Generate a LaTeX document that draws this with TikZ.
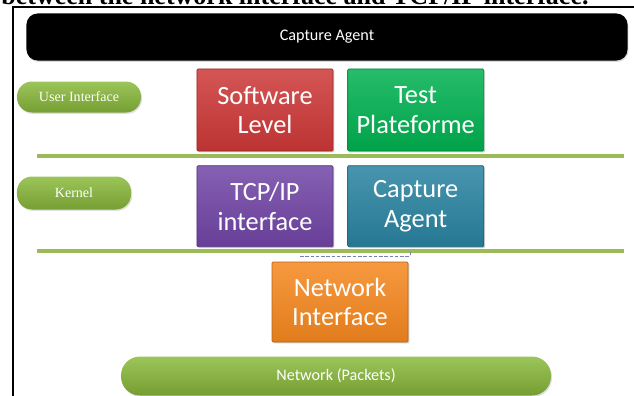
\documentclass[tikz,border=0pt]{standalone}
\usepackage{fontspec}
\setmainfont{Liberation Serif}
\newfontfamily\calfont{Carlito}
\usetikzlibrary{positioning,shadows}
\definecolor{barline}{RGB}{155,187,89}
\definecolor{pillgreen}{RGB}{138,186,60}
\definecolor{swred}{RGB}{205,55,55}
\definecolor{tpgreen}{RGB}{0,176,80}
\definecolor{tcppurple}{RGB}{112,68,165}
\definecolor{capteal}{RGB}{40,130,160}
\definecolor{niorange}{RGB}{245,135,30}
\definecolor{dashblue}{RGB}{120,130,170}

\begin{document}
\begin{tikzpicture}[x=0.2mm, y=-0.2mm,
  layer/.style={draw=#1!75!black, top color=#1!85!white, bottom color=#1!92!black,
    rounded corners=0.6pt, minimum width=27.2mm, minimum height=16.4mm,
    text=white, align=center, font=\calfont\fontsize{15}{16.8}\selectfont,
    drop shadow={opacity=0.35, shadow xshift=0.8pt, shadow yshift=-0.8pt}},
  pill/.style={top color=pillgreen!85!white, bottom color=pillgreen!85!black,
    rounded corners=3mm, text=white, drop shadow={opacity=0.25, shadow xshift=0.6pt, shadow yshift=-0.8pt}},
  node distance=2.8mm and 2.8mm]
  \useasboundingbox (0,0) rectangle (634,396);

  % page text above the figure, cut by the crop
  \begin{scope}
    \clip (0,0) rectangle (634,5);
    \node[anchor=base west, inner sep=0pt, font=\bfseries\fontsize{14.8}{17}\selectfont] (caption) at (1,4)
      {between the network interface and TCP/IP interface.};
  \end{scope}
  \draw[line width=0.5mm] (13,396) -- (13,7) -- (634,7);

  % top bar
  \node[fill=black, rounded corners=2.2mm, minimum width=120.2mm, minimum height=9.4mm,
    text=white, font=\calfont\fontsize{9.2}{11}\selectfont,
    drop shadow={opacity=0.3, shadow xshift=0.5pt, shadow yshift=-0.8pt}] (agentbar) at (327,37) {Capture Agent};

  % layer labels
  \node[pill, minimum width=24.8mm, minimum height=6.2mm, font=\fontsize{8}{9.5}\selectfont] (user) at (79,97) {User Interface};
  \node[pill, minimum width=22.8mm, minimum height=6.6mm, font=\fontsize{8}{9.5}\selectfont] (kernel) at (74,193) {Kernel};

  % boxes
  \node[layer=swred] (soft) at (265,110) {Software\\Level};
  \node[layer=tpgreen, right=of soft] (test) {Test\\Plateforme};
  \node[layer=tcppurple, below=of soft, minimum height=16.2mm] (tcp) {TCP/IP\\interface};
  \node[layer=capteal, right=of tcp, minimum height=16.2mm] (capt) {Capture\\Agent};
  \node[layer=niorange, minimum height=16mm] (netif) at (340,302) {Network\\Interface};

  % separators
  \coordinate (sepa) at (37,156);
  \coordinate (sepb) at (624,156);
  \coordinate (sepc) at (37,251);
  \coordinate (sepd) at (624,251);
  \draw[barline, line width=0.8mm] (sepa) -- (sepb);
  \draw[barline, line width=0.8mm] (sepc) -- (sepd);
  \draw[dashblue, dashed, line width=0.15mm, dash pattern=on 2pt off 1pt] (300,256) -- (410,256) -- (410,252);

  % network
  \node[pill, rounded corners=3.8mm, minimum width=86mm, minimum height=7.8mm,
    font=\calfont\fontsize{9.2}{11}\selectfont] (packets) at (336,376) {Network (Packets)};
\end{tikzpicture}
\end{document}
